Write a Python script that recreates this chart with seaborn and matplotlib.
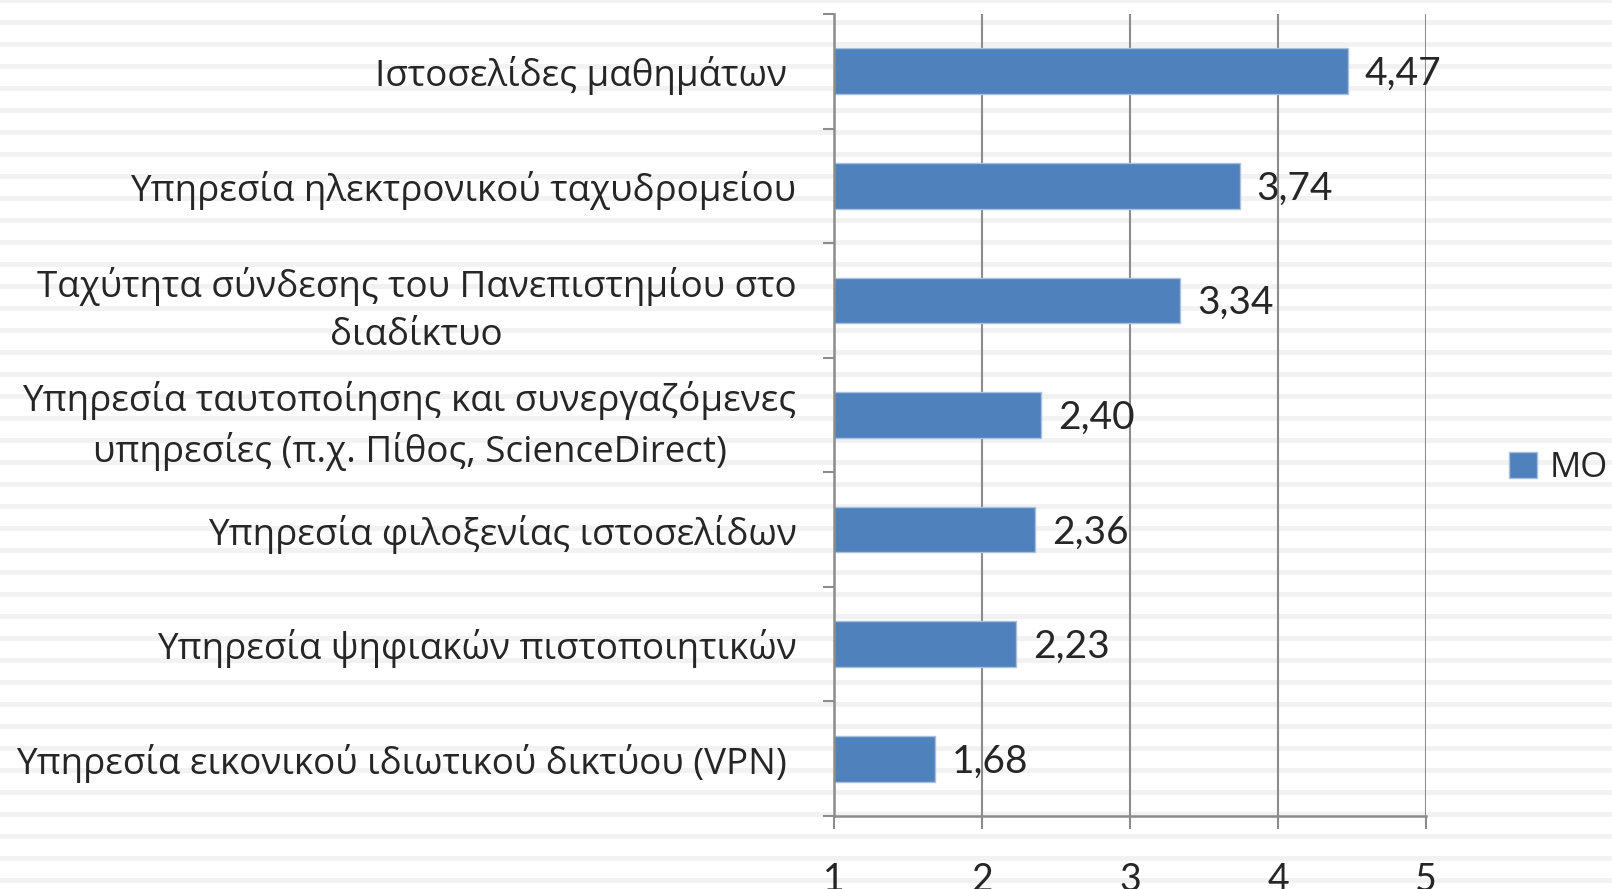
import numpy as np
import pandas as pd
import seaborn as sns
import matplotlib.pyplot as plt
from matplotlib.ticker import FixedLocator
from matplotlib.transforms import offset_copy

# Data
categories = [
    'Ιστοσελίδες μαθημάτων ',
    'Υπηρεσία ηλεκτρονικού ταχυδρομείου',
    'Ταχύτητα σύνδεσης του Πανεπιστημίου στο\nδιαδίκτυο',
    'Υπηρεσία ταυτοποίησης και συνεργαζόμενες\nυπηρεσίες (π.χ. Πίθος, ScienceDirect)',
    'Υπηρεσία φιλοξενίας ιστοσελίδων',
    'Υπηρεσία ψηφιακών πιστοποιητικών',
    'Υπηρεσία εικονικού ιδιωτικού δικτύου (VPN) ',
]
values = [4.47, 3.74, 3.34, 2.40, 2.36, 2.23, 1.68]
x_ticks = [1, 2, 3, 4, 5]
series_name = 'MO'

df = pd.DataFrame({'Service': categories, 'MO': values})

sns.set_theme(style='white')
plt.rcParams['font.family'] = ['Open Sans', 'DejaVu Sans']

W, H, DPI = 1612, 889, 100
fig = plt.figure(figsize=(W / DPI, H / DPI), dpi=DPI)

# striped background across the whole figure
bg = fig.add_axes([0, 0, 1, 1], zorder=-10)
bg.set_xlim(0, W)
bg.set_ylim(H, 0)
bg.axis('off')
for y0 in np.arange(-2, H, 22):
    bg.axhspan(y0, y0 + 5.3, color='#f2f2f2', lw=0)

ax = fig.add_axes([834 / W, 1 - 816 / H, (1426 - 834) / W, (816 - 14) / H])
ax.patch.set_alpha(0)

bar_color = '#4f81bd'
sns.barplot(data=df, x='MO', y='Service', color=bar_color, saturation=1, width=0.4,
            edgecolor='#a9c1df', linewidth=1, label=series_name, ax=ax, zorder=3)

ax.set_xlim(1, 5)
ax.set_ylim(len(categories) - 0.5, -0.5)
ax.set_xlabel('')
ax.set_ylabel('')

# grid + axes in the office-chart grey
grey = '#8c8c8c'
ax.set_xticks(x_ticks)
ax.xaxis.grid(True, color=grey, lw=1.5, zorder=0)
ax.yaxis.grid(False)
for s in ['top', 'right']:
    ax.spines[s].set_visible(False)
for s in ['left', 'bottom']:
    ax.spines[s].set_color(grey)
    ax.spines[s].set_linewidth(1.8)
    ax.spines[s].set_zorder(4)

ax.tick_params(axis='x', direction='out', length=9, width=1.5, color=grey,
               pad=24, labelsize=27, bottom=True)
for lbl in ax.get_xticklabels():
    lbl.set_fontfamily(['Lato', 'DejaVu Sans'])

ax.tick_params(axis='y', which='major', length=0, pad=27, labelsize=26.5)
ax.yaxis.set_minor_locator(FixedLocator(np.arange(-0.5, len(categories), 1)))
ax.tick_params(axis='y', which='minor', direction='out', length=8, width=1.5,
               color=grey, left=True)
for lbl in ax.get_yticklabels():
    lbl.set_multialignment('center')
    lbl.set_linespacing(1.42)

# value labels with comma decimals
txt_tr = offset_copy(ax.transData, fig=fig, x=12, y=-2, units='points')
for i, v in enumerate(values):
    ax.text(v, i, f'{v:.2f}'.replace('.', ','), va='center', ha='left',
            fontsize=28, fontfamily=['Lato', 'DejaVu Sans'], zorder=5,
            transform=txt_tr)

ax.legend(loc='center left', bbox_to_anchor=(1492 / W, 1 - 468 / H),
          bbox_transform=fig.transFigure, frameon=False, fontsize=25,
          handlelength=0.8, handleheight=0.8, handletextpad=0.35, borderpad=0)

fig.savefig('out.png', dpi=DPI)
